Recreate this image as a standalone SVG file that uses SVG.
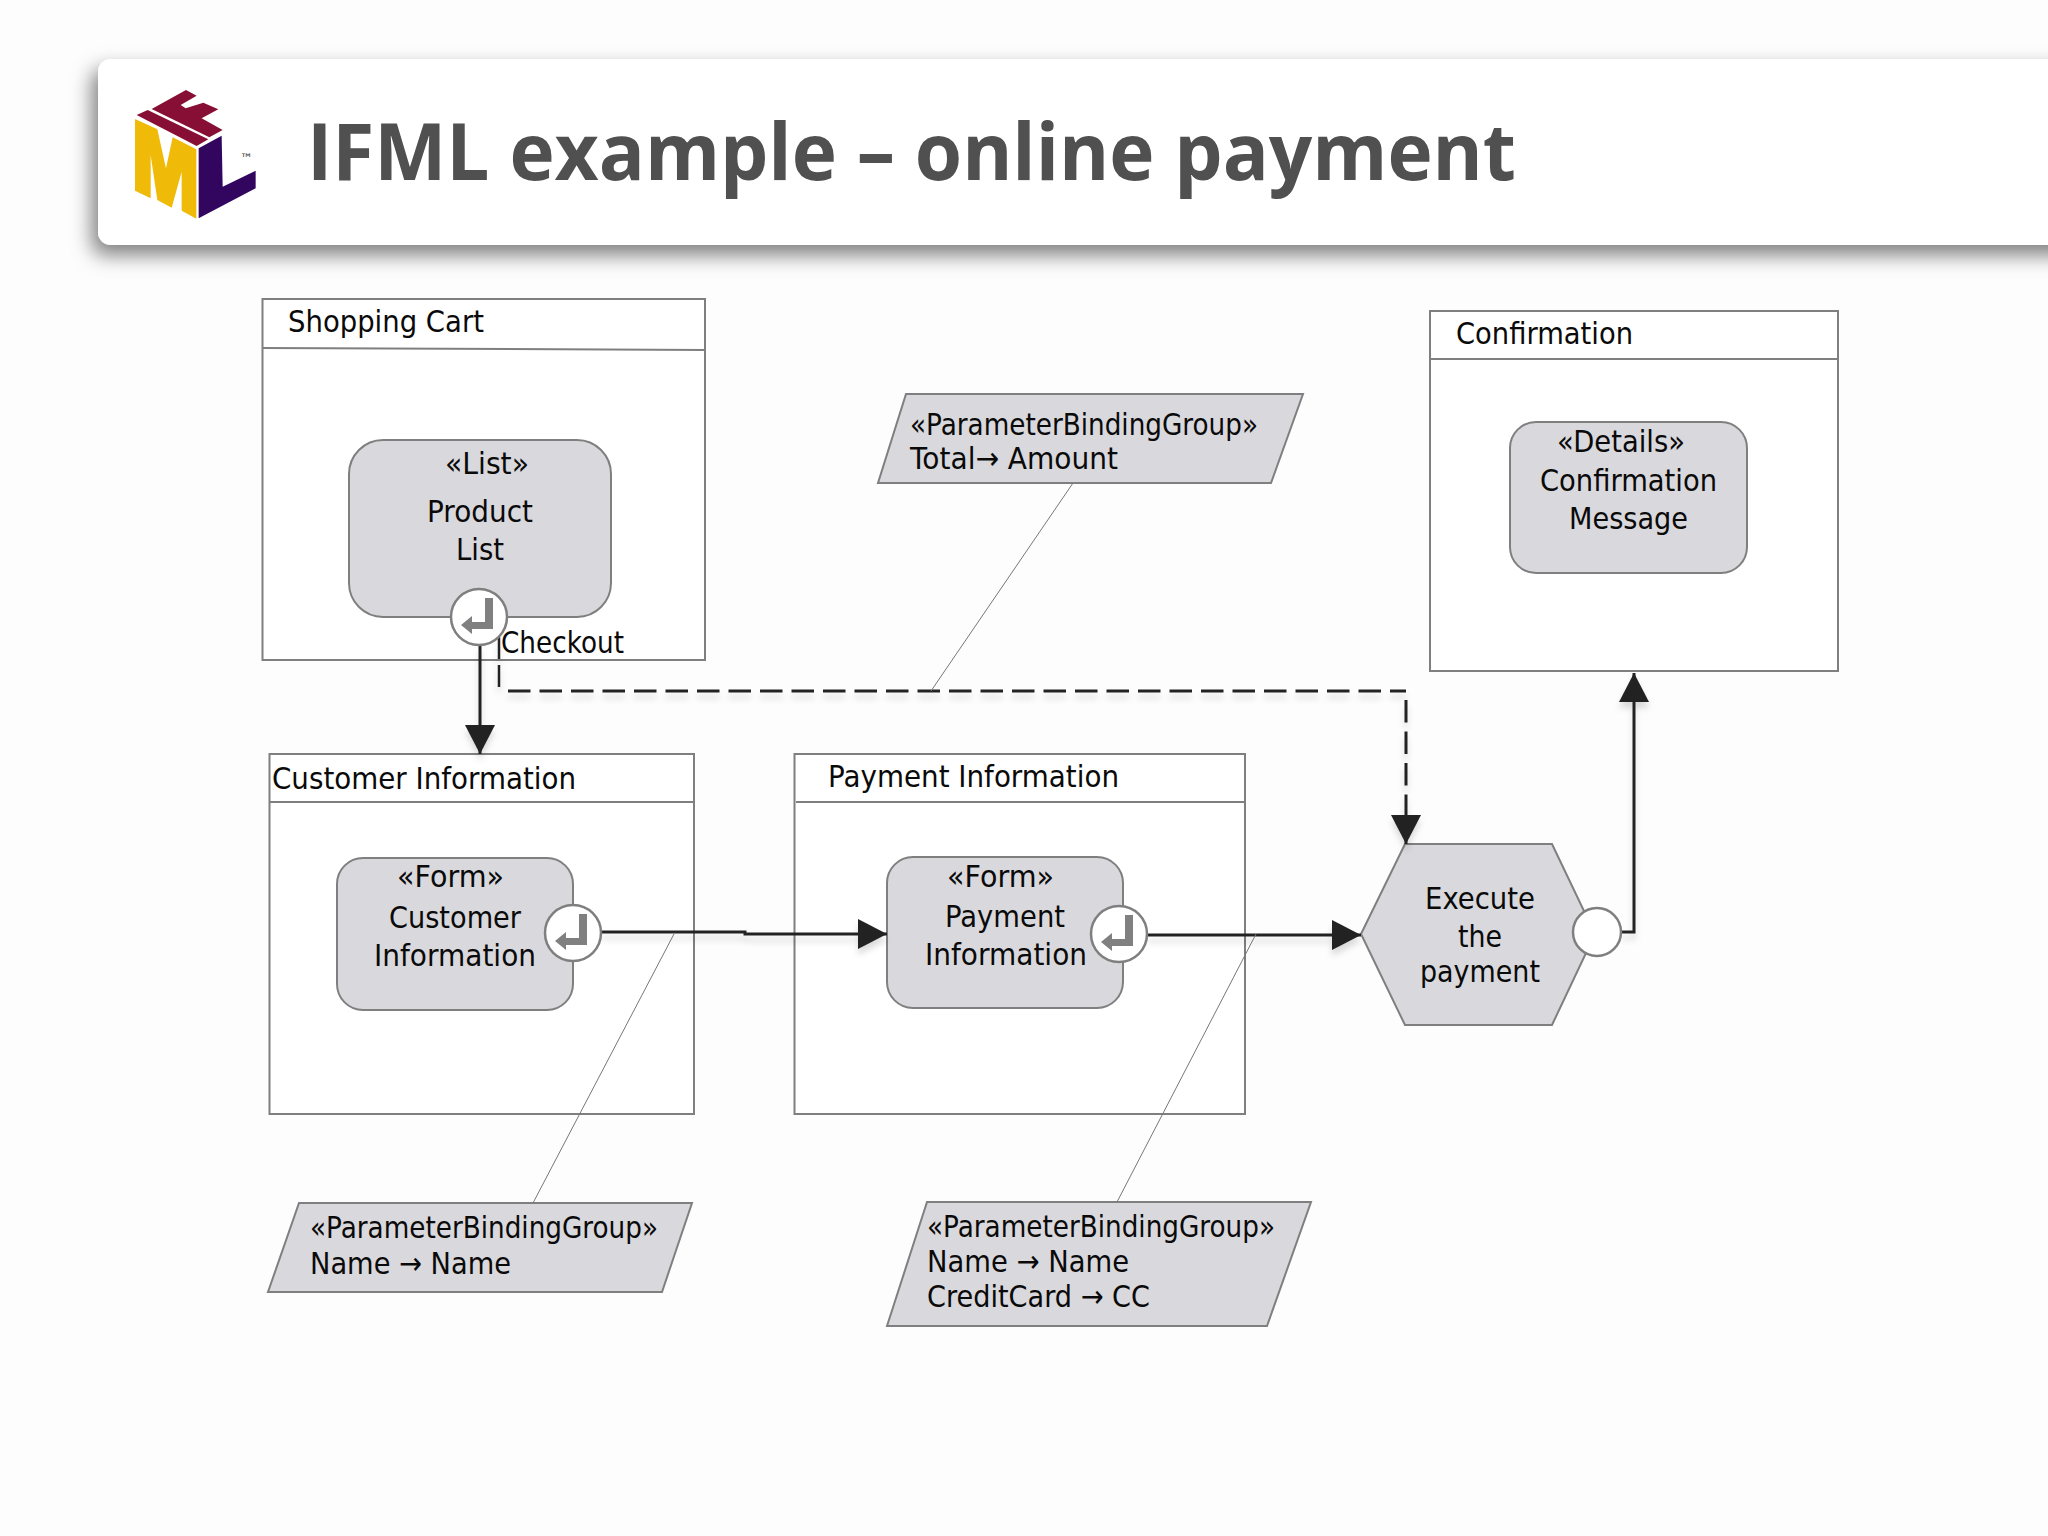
<svg xmlns="http://www.w3.org/2000/svg" width="2048" height="1536" viewBox="0 0 2048 1536">
<style>
text{font-family:"DejaVu Sans","Liberation Sans",sans-serif;font-size:31px;fill:#0a0a0a;white-space:pre}
.title{font-family:"Open Sans","Noto Sans",sans-serif;font-weight:700;font-size:78px;fill:#505050}
.box{fill:#fff;stroke:#7f7f7f;stroke-width:2}
.sep{fill:none;stroke:#7f7f7f;stroke-width:2}
.n{fill:#d9d8dc;stroke:#7f7f7f;stroke-width:2}
.c{fill:#fff;stroke:#7f7f7f;stroke-width:2.5}
.ln{fill:none;stroke:#222;stroke-width:3}
.d{stroke-dasharray:22.500 9}
.thin{fill:none;stroke:#777;stroke-width:1}
</style>
<defs>
<filter id="hs" x="-5%" y="-30%" width="110%" height="170%"><feDropShadow dx="-6" dy="10" stdDeviation="10" flood-color="#000" flood-opacity=".5"/></filter>
<filter id="ls" x="-20%" y="-20%" width="140%" height="140%"><feDropShadow dx="0" dy="6" stdDeviation="3" flood-color="#000" flood-opacity=".14"/></filter>
<marker id="a" markerUnits="userSpaceOnUse" markerWidth="32" markerHeight="32" refX="29" refY="15" orient="auto"><path d="M0 0L29 15L0 30Z" fill="#222"/></marker>
<path id="ret" d="M6-19H14V12H-7V17L-18 8L-7-1V5H6Z" fill="#808080"/>
</defs>
<rect width="2048" height="1536" fill="#fdfdfe"/>
<g id="header">
<rect x="98" y="59" width="2000" height="186" rx="13" fill="#fff" filter="url(#hs)"/>
<g id="logo" transform="translate(80 40) scale(.3333)">
<path fill="#870f35" d="M215 207L318 150L350 167L302 195L317 205L370 188L415 208L365 235L428 270L388 292Z"/>
<path fill="#870f35" d="M170 225L203 210L385 298L350 318Z"/>
<path fill="#efba08" d="M165 237L232 268L258 385L278 292L349 328V536L305 512V395L275 503L232 480L212 345V475L165 452Z"/>
<path fill="#32065f" d="M356 325L425 287L428 440L527 392V445L356 535Z"/>
</g>
<text x="240" y="163" style="font-size:13px;fill:#333">™</text>
<text class="title" x="307" y="180" textLength="1209" lengthAdjust="spacingAndGlyphs">IFML example – online payment</text>
</g>
<g id="shopping-cart">
<rect class="box" x="262.500" y="299" width="442.500" height="361"/>
<path class="sep" d="M263 348L705 350"/>
<text x="288" y="332" textLength="196" lengthAdjust="spacingAndGlyphs">Shopping Cart</text>
</g>
<g id="product-list">
<rect class="n" x="349" y="440" width="262" height="177" rx="34"/>
<text x="445" y="474" textLength="84" lengthAdjust="spacingAndGlyphs">«List»</text>
<text x="427" y="522" textLength="106" lengthAdjust="spacingAndGlyphs">Product</text>
<text x="456" y="560" textLength="48" lengthAdjust="spacingAndGlyphs">List</text>
</g>
<g id="confirmation">
<rect class="box" x="1430" y="311" width="408" height="360"/>
<path class="sep" d="M1430 359H1838"/>
<text x="1456" y="344" textLength="177" lengthAdjust="spacingAndGlyphs">Confirmation</text>
</g>
<g id="confirmation-message">
<rect class="n" x="1510" y="422" width="237" height="151" rx="26"/>
<text x="1557" y="452" textLength="128" lengthAdjust="spacingAndGlyphs">«Details»</text>
<text x="1540" y="491" textLength="177" lengthAdjust="spacingAndGlyphs">Confirmation</text>
<text x="1569" y="529" textLength="119" lengthAdjust="spacingAndGlyphs">Message</text>
</g>
<g id="customer-information">
<rect class="box" x="269.500" y="754" width="424.500" height="360"/>
<path class="sep" d="M270 802H694"/>
<text x="272" y="789" textLength="304" lengthAdjust="spacingAndGlyphs">Customer Information</text>
</g>
<g id="payment-information">
<rect class="box" x="794.500" y="754" width="450.500" height="360"/>
<path class="sep" d="M796 802H1245"/>
<text x="828" y="787" textLength="291" lengthAdjust="spacingAndGlyphs">Payment Information</text>
</g>
<g id="customer-form">
<rect class="n" x="337" y="858" width="236" height="152" rx="26"/>
<text x="397" y="887" textLength="107" lengthAdjust="spacingAndGlyphs">«Form»</text>
<text x="389" y="928" textLength="132" lengthAdjust="spacingAndGlyphs">Customer</text>
<text x="374" y="966" textLength="162" lengthAdjust="spacingAndGlyphs">Information</text>
</g>
<g id="payment-form">
<rect class="n" x="887" y="857" width="236" height="151" rx="26"/>
<text x="947" y="887" textLength="107" lengthAdjust="spacingAndGlyphs">«Form»</text>
<text x="945" y="927" textLength="120" lengthAdjust="spacingAndGlyphs">Payment</text>
<text x="925" y="965" textLength="162" lengthAdjust="spacingAndGlyphs">Information</text>
</g>
<g id="execute-payment">
<path class="n" d="M1361 934L1405 844H1552L1595 934L1552 1025H1405Z"/>
<text x="1425" y="909" textLength="110" lengthAdjust="spacingAndGlyphs">Execute</text>
<text x="1458" y="947" textLength="44" lengthAdjust="spacingAndGlyphs">the</text>
<text x="1420" y="982" textLength="120" lengthAdjust="spacingAndGlyphs">payment</text>
</g>
<g id="binding-total">
<path class="n" d="M906 394H1303L1271 483H878Z"/>
<text x="910" y="435" textLength="348" lengthAdjust="spacingAndGlyphs">«ParameterBindingGroup»</text>
<text x="910" y="469" textLength="208" lengthAdjust="spacingAndGlyphs">Total→ Amount</text>
</g>
<g id="binding-name">
<path class="n" d="M299 1203H692L662 1292H268Z"/>
<text x="310" y="1238" textLength="348" lengthAdjust="spacingAndGlyphs">«ParameterBindingGroup»</text>
<text x="310" y="1274" textLength="201" lengthAdjust="spacingAndGlyphs">Name → Name</text>
</g>
<g id="binding-card">
<path class="n" d="M927 1202H1311L1267 1326H887Z"/>
<text x="927" y="1237" textLength="348" lengthAdjust="spacingAndGlyphs">«ParameterBindingGroup»</text>
<text x="927" y="1272" textLength="202" lengthAdjust="spacingAndGlyphs">Name → Name</text>
<text x="927" y="1307" textLength="223" lengthAdjust="spacingAndGlyphs">CreditCard → CC</text>
</g>
<g id="connectors">
<g filter="url(#ls)">
<path class="ln" d="M480 645V754" marker-end="url(#a)"/>
<path class="ln" d="M499 637V690" style="stroke-width:2.500;stroke-dasharray:22 6"/>
<path class="ln d" d="M508 691H1406"/>
<path class="ln d" d="M1406 700V844" marker-end="url(#a)"/>
<path class="ln" d="M601 932L745 932L745 934H887" marker-end="url(#a)"/>
<path class="ln" d="M1147 935H1361" marker-end="url(#a)"/>
<path class="ln" d="M1621 932H1634V673" marker-end="url(#a)"/>
</g>
<path class="thin" d="M1073 483L931 691"/>
<path class="thin" d="M674 934L533 1203"/>
<path class="thin" d="M1256 934L1117 1202"/>
</g>
<g id="ports">
<circle class="c" cx="479" cy="617" r="28"/><use href="#ret" x="479" y="617"/>
<circle class="c" cx="573" cy="933" r="28"/><use href="#ret" x="573" y="933"/>
<circle class="c" cx="1119" cy="934" r="28"/><use href="#ret" x="1119" y="934"/>
<circle class="c" cx="1597" cy="932" r="24"/>
</g>
<text id="checkout" x="501" y="653" textLength="123" lengthAdjust="spacingAndGlyphs">Checkout</text>
</svg>
